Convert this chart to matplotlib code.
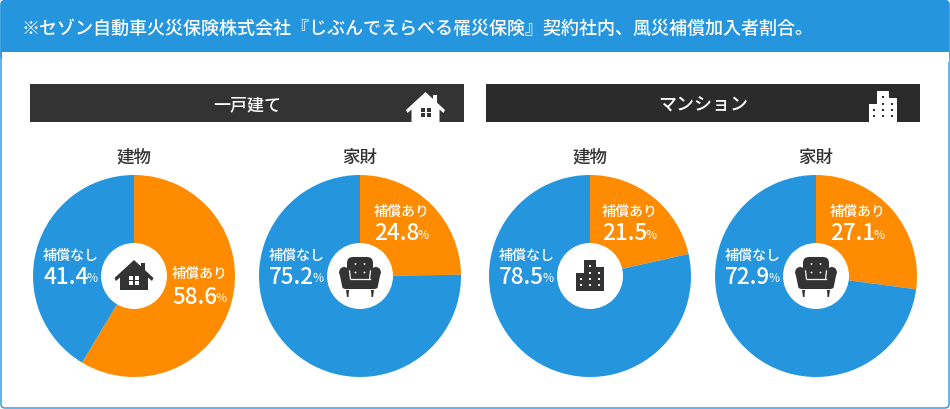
import matplotlib
matplotlib.use("Agg")
import matplotlib.pyplot as plt
from matplotlib.patches import Circle, FancyBboxPatch, Polygon, Rectangle

plt.rcParams['font.family'] = ['Noto Sans CJK JP', 'DejaVu Sans']

BLUE = "#2596de"
ORANGE = "#ff8c00"
DARK = "#333333"

title_text = "※セゾン自動車火災保険株式会社『じぶんでえらべる罹災保険』契約社内、風災補償加入者割合。"
group_names = ["一戸建て", "マンション"]
pie_titles = ["建物", "家財", "建物", "家財"]
label_yes = "補償あり"
label_no = "補償なし"
yes_values = [58.6, 24.8, 21.5, 27.1]
no_values = [41.4, 75.2, 78.5, 72.9]

W, H = 950, 409
R = 101
pie_x = [134, 360, 590, 816]
pie_y = 276
# where the labels sit: left edge, y of the small label, y of the number
yes_pos = [(172, 274, 297), (374, 212, 234), (602, 212, 234), (830, 212, 234)]
no_pos = [(43, 256, 277), (269, 256, 277), (499, 256, 277), (725, 256, 277)]

fig = plt.figure(figsize=(W / 100, H / 100), dpi=100)
ax = fig.add_axes([0, 0, 1, 1])
ax.set_axis_off()


def Y(py):
    return H - py


def px(size):
    return size * 0.72


def poly(points, color, z=6):
    ax.add_patch(Polygon([(x, Y(y)) for x, y in points], closed=True, fc=color, ec="none", zorder=z))


def rect(x0, y0, x1, y1, color, z=6):
    ax.add_patch(Rectangle((x0, Y(y1)), x1 - x0, y1 - y0, fc=color, ec="none", zorder=z))


def draw_house(cx, top, color, hole):
    rect(cx + 7, top + 3, cx + 11, top + 14, color)
    poly([(cx, top), (cx + 19.5, top + 18), (cx + 18, top + 21), (cx + 14, top + 17.5), (cx + 14, top + 30),
          (cx - 14, top + 30), (cx - 14, top + 17.5), (cx - 18, top + 21), (cx - 19.5, top + 18)], color)
    for dx in (-5, 1):
        for dy in (15.5, 21):
            rect(cx + dx, top + dy, cx + dx + 4, top + dy + 4, hole, z=7)


def draw_building(cx, top, color, hole):
    rect(cx - 6, top, cx + 5.5, top + 31, color)
    rect(cx + 5.5, top + 6.5, cx + 14, top + 31, color)
    rect(cx - 14, top + 13, cx - 6, top + 31, color)
    dots = [(-9, 19), (-9, 25), (0, 6), (0, 12.5), (0, 19), (0, 25), (9, 12.5), (9, 19), (9, 25)]
    for dx, dy in dots:
        rect(cx + dx - 1, top + dy - 1, cx + dx + 1, top + dy + 1, hole, z=7)


def draw_chair(cx, cy):
    ax.add_patch(FancyBboxPatch((cx - 13, Y(cy + 4)), 26, 22, boxstyle="round,pad=0,rounding_size=6",
                                fc=DARK, ec="none", zorder=6))
    for side in (-1, 1):
        ax.add_patch(Circle((cx + side * 15.8, Y(cy - 3)), 5, fc=DARK, ec="none", zorder=6))
        poly([(cx + side * 10, cy - 3), (cx + side * 20.8, cy - 3), (cx + side * 17.5, cy + 13), (cx + side * 15, cy + 14),
              (cx, cy + 14), (cx, cy)], DARK)
        poly([(cx + side * 11, cy + 15), (cx + side * 14, cy + 15), (cx + side * 13, cy + 22), (cx + side * 11.5, cy + 22)], DARK)
        ax.plot([cx + side * 10.5, cx + side * 9.5], [Y(cy - 4), Y(cy + 4)], color="white", lw=0.9, zorder=7)
    ax.plot([cx - 9.5, cx + 9.5], [Y(cy + 4), Y(cy + 4)], color="white", lw=0.9, zorder=7)
    for dx in (-4.5, 4.5):
        for dy in (-11, -2.5):
            ax.add_patch(Circle((cx + dx, Y(cy + dy)), 0.9, fc="white", ec="none", zorder=7))


# outer panel and header band
ax.add_patch(FancyBboxPatch((1, 1), W - 2, H - 2, boxstyle="round,pad=0,rounding_size=4",
                            fc="white", ec=BLUE, lw=1, zorder=1))
ax.add_patch(FancyBboxPatch((0.5, Y(60)), W - 1, 60, boxstyle="round,pad=0,rounding_size=4",
                            fc=BLUE, ec="none", zorder=2))
rect(1.5, 52, W - 1.5, 62, "white", z=3)
ax.text(22, Y(28.5), title_text, color="white", fontsize=px(18.05), va="center", ha="left", fontweight="medium", zorder=4)

# group bars
rect(30, 84, 464, 122, DARK, z=2)
rect(486, 84, 920, 122, "#2b2b2b", z=2)
ax.text(247, Y(105), group_names[0], color="white", fontsize=px(17), ha="center", va="center", fontweight="medium", zorder=4)
ax.text(703, Y(105), group_names[1], color="white", fontsize=px(18), ha="center", va="center", fontweight="medium", zorder=4)
draw_house(425.5, 92, "white", DARK)
draw_building(883, 91, "white", "#2b2b2b")

# pies
for i, cx in enumerate(pie_x):
    ax.pie([yes_values[i], no_values[i]], colors=[ORANGE, BLUE], startangle=90, counterclock=False,
           center=(cx, Y(pie_y)), radius=R, frame=True, wedgeprops={"linewidth": 0, "zorder": 3})
    ax.add_patch(Circle((cx, Y(pie_y)), 33, fc="white", ec="none", zorder=5))
    ax.text(cx, Y(158), pie_titles[i], color=DARK, fontsize=px(17.5), ha="center", va="center", fontweight="medium", zorder=4)

    for name, val, (lx, ly, vy) in ((label_yes, yes_values[i], yes_pos[i]), (label_no, no_values[i], no_pos[i])):
        ax.text(lx, Y(ly), name, color="white", fontsize=px(14), ha="left", va="center", fontweight="medium", zorder=6)
        ax.text(lx, Y(vy), f"{val:.1f}", color="white", fontsize=px(22.5), ha="left", va="center", fontweight="medium", zorder=6)
        ax.text(lx + 55, Y(vy + 1.5), "%", color="white", fontsize=px(12), ha="right", va="center", zorder=6)

draw_house(pie_x[0], 260, DARK, "white")
draw_chair(pie_x[1], 275)
draw_building(pie_x[2], 260, DARK, "white")
draw_chair(pie_x[3], 275)

ax.set_xlim(0, W)
ax.set_ylim(0, H)
ax.set_aspect("auto")

fig.savefig("out.png", dpi=100, facecolor="white")
